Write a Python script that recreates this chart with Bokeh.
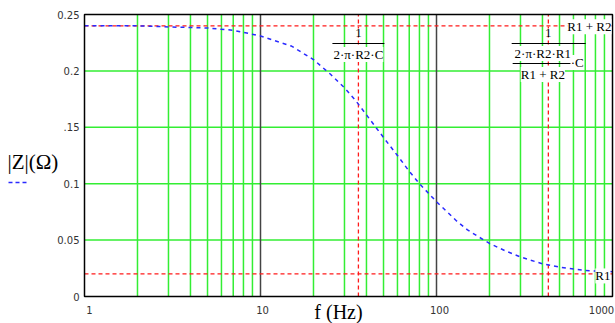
from bokeh.plotting import figure
from bokeh.models import Label
from bokeh.embed import file_html
from bokeh.resources import INLINE

# ---- data ----
freq = [1, 2, 3, 5, 7, 10, 15, 20, 25, 30, 35, 40, 50, 60, 70, 80, 100,
        130, 150, 200, 250, 300, 400, 500, 700, 1000]
z_mag = [0.240, 0.240, 0.239, 0.238, 0.236, 0.231, 0.222, 0.210, 0.197, 0.185,
         0.173, 0.161, 0.141, 0.125, 0.111, 0.100, 0.084, 0.067, 0.059, 0.047,
         0.040, 0.035, 0.029, 0.026, 0.023, 0.022]

x_ticks = [1, 10, 100, 1000]
x_tick_labels = ["1", "10", "100", "1000"]
x_minor = [2, 3, 4, 5, 6, 7, 8, 9, 20, 30, 40, 50, 60, 70, 80, 90,
           200, 300, 400, 500, 600, 700, 800, 900]
y_ticks = [0, 0.05, 0.1, 0.15, 0.2, 0.25]
y_tick_labels = ["0", "0.05", "0.1", ".15", "0.2", "0.25"]

R1 = 0.02          # high-frequency asymptote
R1_plus_R2 = 0.24  # low-frequency asymptote
f_pole = 36        # 1/(2 pi R2 C)
f_zero = 432       # 1/(2 pi (R2 R1/(R1+R2)) C)

# ---- layout (pixels) ----
W, H = 615, 323
PX_L, PX_R, PX_T, PX_B = 84, 612, 14, 296
X0, X1 = x_ticks[0], x_ticks[-1]
Y0, Y1 = y_ticks[0], y_ticks[-1]
DEC = (PX_R - PX_L) / 3.0            # pixels per decade
YPX = (PX_B - PX_T) / (Y1 - Y0)      # pixels per unit

def fx(px):   # canvas pixel -> data x (log)
    return X0 * 10 ** ((px - PX_L) / DEC)

def vy(py):   # canvas pixel (from top) -> data y
    return Y0 + (PX_B - py) / YPX

GREEN = "#33ee33"
RED = "#ff1a1a"
BLUE = "#2a2aff"
DECADE = "#444444"
TICK_COLOR = "#333333"
SERIF = "Liberation Serif"
SANS = "DejaVu Sans"

p = figure(width=W, height=H, x_axis_type="log",
           x_range=(fx(0), fx(W)), y_range=(vy(H), vy(0)),
           output_backend="svg", toolbar_location=None,
           min_border=0)
p.axis.visible = False
p.grid.visible = False
p.outline_line_color = None
p.background_fill_color = "white"
p.border_fill_color = "white"

# grid
p.segment(x0=x_minor, x1=x_minor, y0=[Y0] * len(x_minor), y1=[Y1] * len(x_minor),
          line_color=GREEN, line_width=1.5)
inner_y = y_ticks[1:-1]
p.segment(x0=[X0] * len(inner_y), x1=[X1] * len(inner_y), y0=inner_y, y1=inner_y,
          line_color=GREEN, line_width=1.5)
inner_x = x_ticks[1:-1]
p.segment(x0=inner_x, x1=inner_x, y0=[Y0] * len(inner_x), y1=[Y1] * len(inner_x),
          line_color=DECADE, line_width=1.5)

# marker lines
p.segment(x0=[X0, X0], x1=[X1, X1], y0=[R1, R1_plus_R2], y1=[R1, R1_plus_R2],
          line_color=RED, line_dash="4 3", line_width=1.3)
p.segment(x0=[f_pole, f_zero], x1=[f_pole, f_zero], y0=[Y0, Y0], y1=[Y1, Y1],
          line_color=RED, line_dash="4 3", line_width=1.3)

# curve
p.line(freq, z_mag, line_color=BLUE, line_dash="4 4", line_width=1.5)

# plot border
p.quad(left=[X0], right=[X1], bottom=[Y0], top=[Y1], fill_color=None,
       line_color="black", line_width=1.5)

# tick labels
x_nudge = [5, 2, 3, -11]
for t, lab, dx in zip(x_ticks, x_tick_labels, x_nudge):
    p.add_layout(Label(x=t, y=Y0, text=lab, x_offset=dx, y_offset=-13,
                       text_align="center", text_baseline="middle",
                       text_font=SANS, text_font_size="10px",
                       text_color=TICK_COLOR))
for t, lab in zip(y_ticks, y_tick_labels):
    p.add_layout(Label(x=X0, y=t, text=lab, x_offset=-5, y_offset=0,
                       text_align="right", text_baseline="middle",
                       text_font=SANS, text_font_size="10px",
                       text_color=TICK_COLOR))

def lab(x, y, text, align="center", dx=0, dy=0):
    p.add_layout(Label(x=x, y=y, text=text, x_offset=dx, y_offset=dy,
                       text_align=align, text_baseline="middle",
                       text_font=SERIF, text_font_size="13px",
                       text_color="black", background_fill_color="white"))

# marker formulas
lab(f_pole, vy(32), "1")
lab(f_pole, vy(54), "2·π·R2·C")
p.segment(x0=[f_pole / 1.405], x1=[f_pole * 1.405], y0=[vy(43)], y1=[vy(43)],
          line_color="black", line_width=1)

lab(f_zero, vy(32), "1")
p.segment(x0=[f_zero * 0.619], x1=[f_zero * 1.63], y0=[vy(43)], y1=[vy(43)],
          line_color="black", line_width=1)
lab(f_zero * 0.93, vy(53), "2·π·R2·R1")
p.segment(x0=[f_zero * 0.627], x1=[f_zero * 1.339], y0=[vy(63)], y1=[vy(63)],
          line_color="black", line_width=1)
lab(f_zero * 1.339, vy(62), "·C", align="left")
lab(f_zero * 0.93, vy(74), "R1 + R2")

lab(X1, R1_plus_R2, "R1 + R2", align="right", dx=-1, dy=-1)
lab(X1, R1, "R1", align="right", dx=-2, dy=-2)

# y title with its line sample, x title
p.add_layout(Label(x=fx(7), y=vy(161), text="|Z|(Ω)", text_align="left",
                   text_baseline="middle", text_font=SERIF,
                   text_font_size="21px", text_color="black"))
p.line([fx(8), fx(28)], [vy(182), vy(182)], line_color=BLUE,
       line_dash="4 3", line_width=1.5)
p.add_layout(Label(x=fx(338), y=vy(322), text="f (Hz)", text_align="center",
                   text_baseline="bottom", text_font=SERIF,
                   text_font_size="20px", text_color="black"))

open("out.html", "w").write(file_html(p, INLINE))
